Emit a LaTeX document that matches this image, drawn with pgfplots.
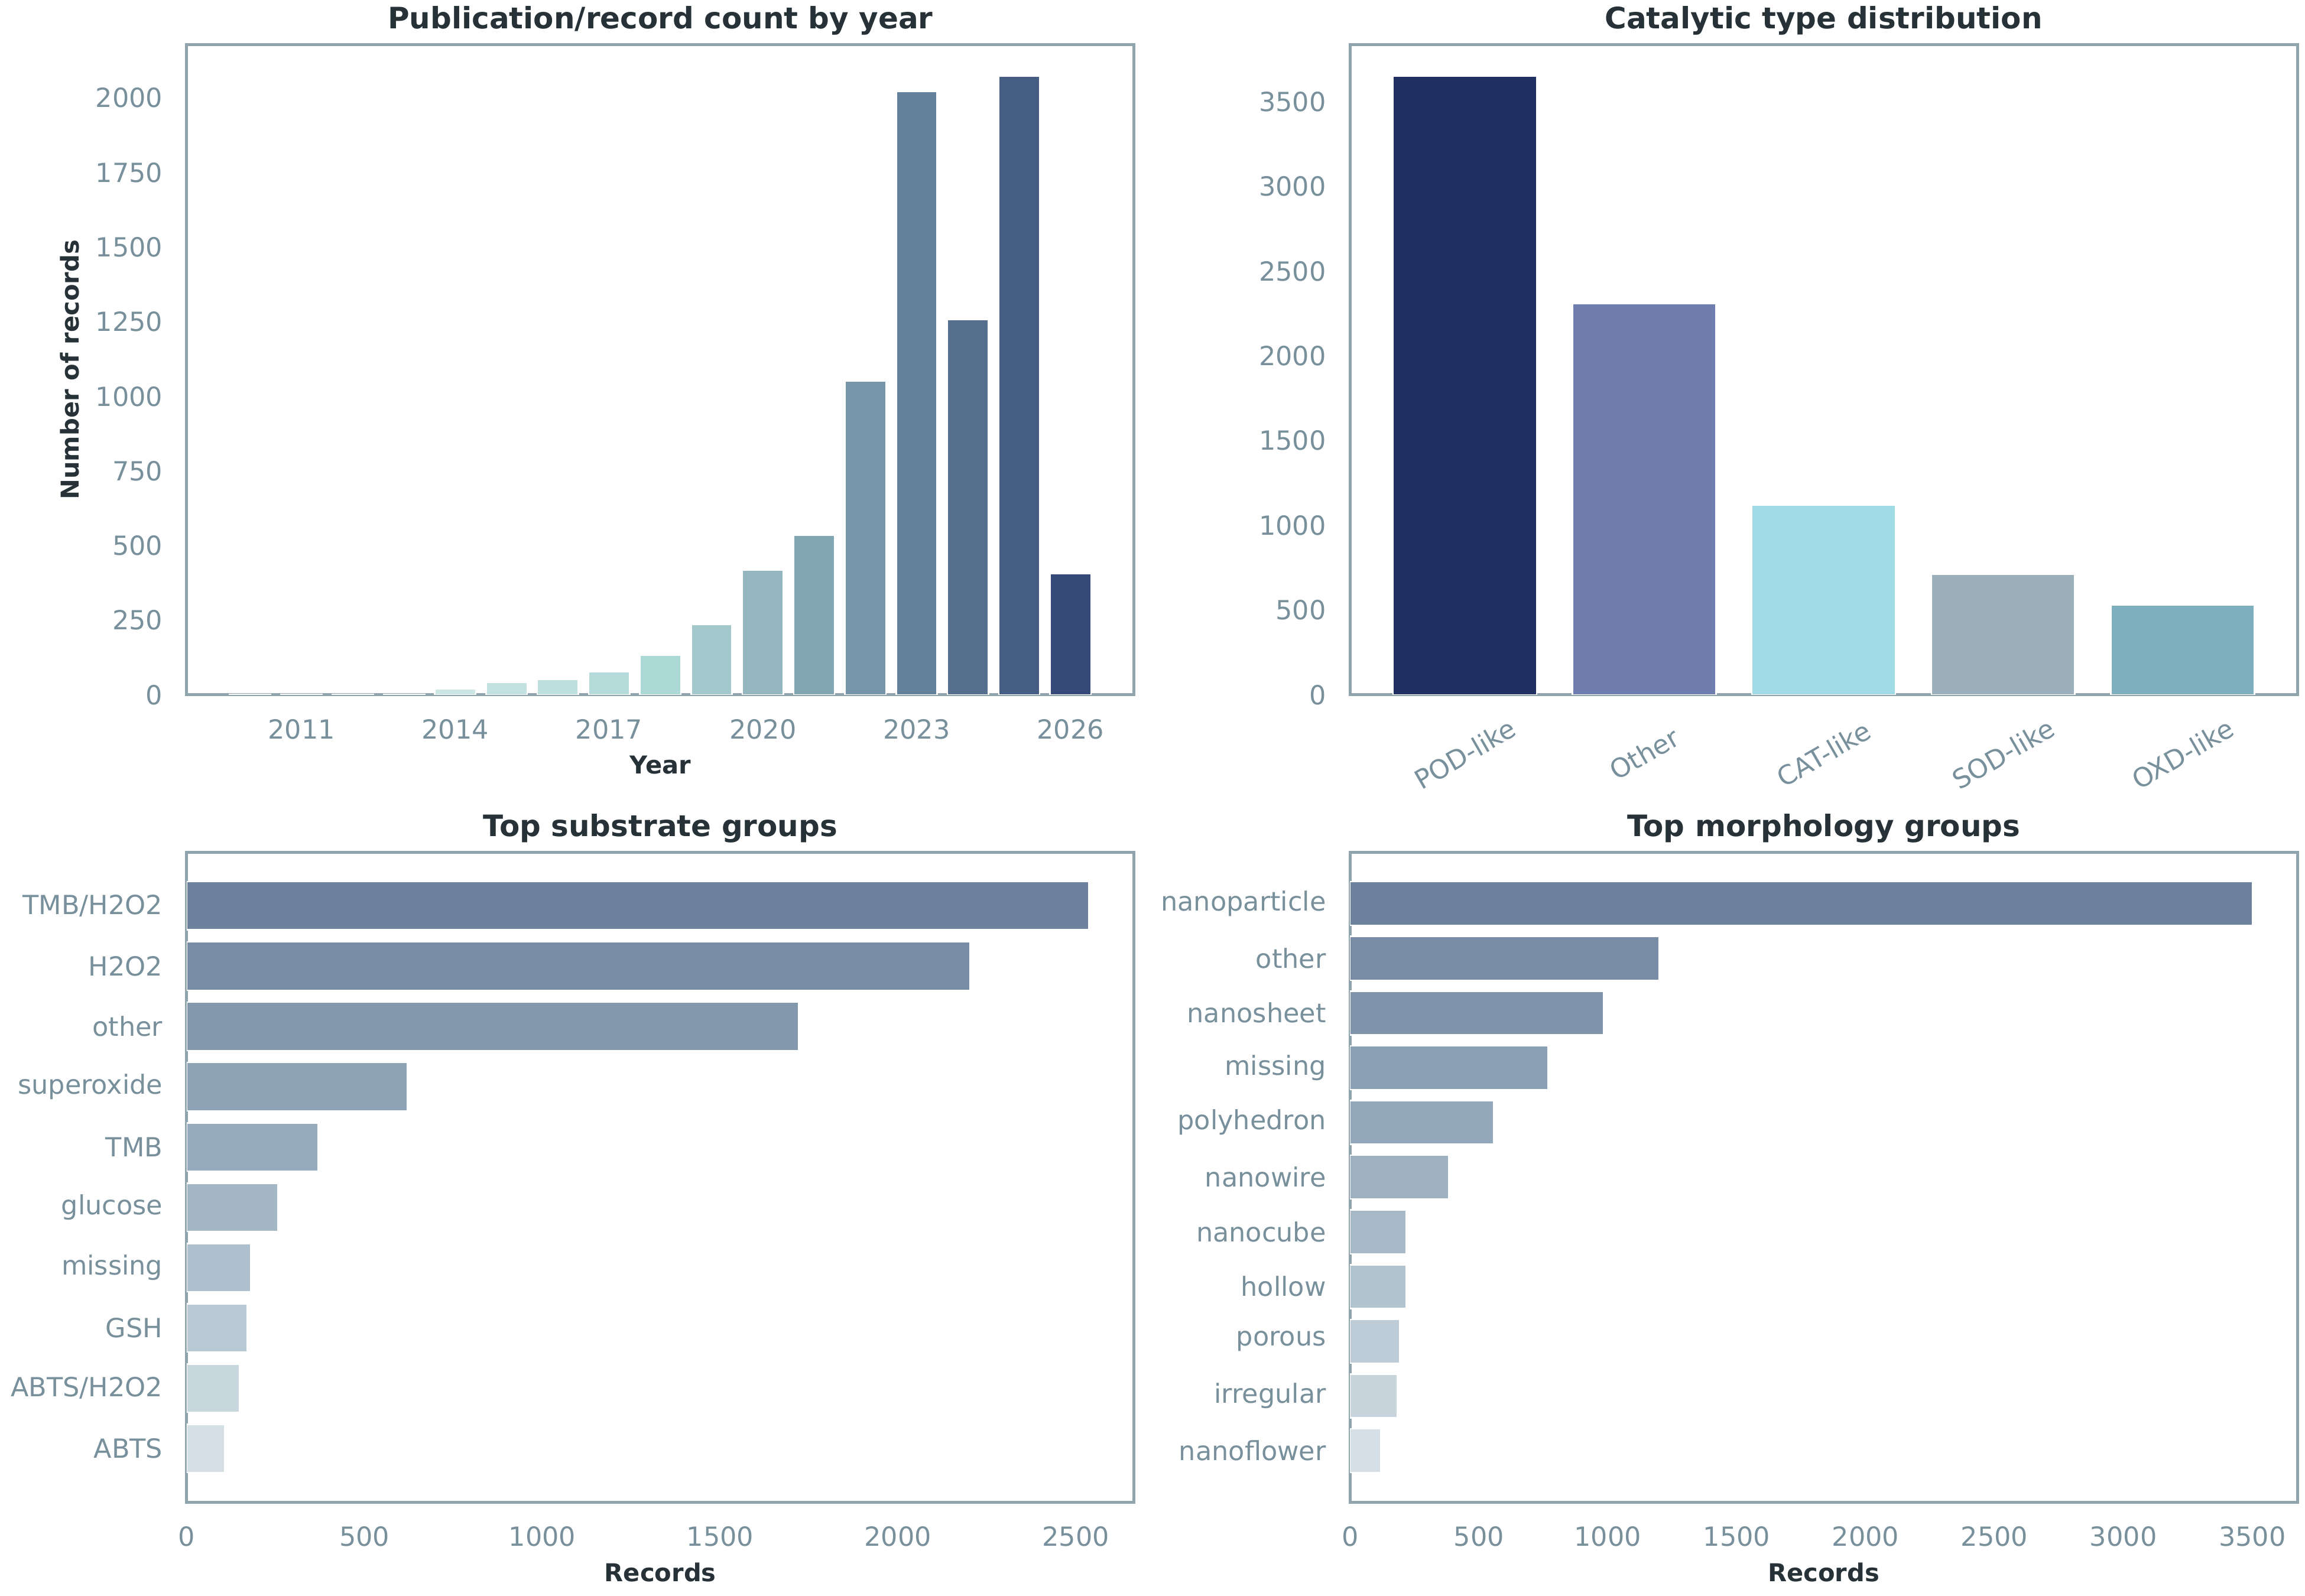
\documentclass[border=0pt]{standalone}
\usepackage{fontspec}
\setmainfont{DejaVu Sans}
\usepackage{pgfplots}
\pgfplotsset{compat=1.18}

% text and frame colours
\definecolor{titlec}{HTML}{263238}
\definecolor{tickc}{HTML}{78909C}
\definecolor{spinec}{HTML}{90A4AE}

% year bars: light teal to navy
\definecolor{y10}{HTML}{DCEEED}
\definecolor{y11}{HTML}{D8ECEB}
\definecolor{y12}{HTML}{D4EAE9}
\definecolor{y13}{HTML}{D0E8E7}
\definecolor{y14}{HTML}{CCE6E4}
\definecolor{y15}{HTML}{C3E1E0}
\definecolor{y16}{HTML}{BDE0DE}
\definecolor{y17}{HTML}{B5DCDA}
\definecolor{y18}{HTML}{ACD9D6}
\definecolor{y19}{HTML}{A2C8CB}
\definecolor{y20}{HTML}{94B7BF}
\definecolor{y21}{HTML}{83A6B3}
\definecolor{y22}{HTML}{7695A9}
\definecolor{y23}{HTML}{64819C}
\definecolor{y24}{HTML}{566F8E}
\definecolor{y25}{HTML}{475E84}
\definecolor{y26}{HTML}{354A78}

% catalytic types
\definecolor{cpod}{HTML}{213063}
\definecolor{coth}{HTML}{6F7EAE}
\definecolor{ccat}{HTML}{A0DBE6}
\definecolor{csod}{HTML}{9BB0BB}
\definecolor{coxd}{HTML}{7EAFBE}

% substrate groups
\definecolor{s0}{HTML}{6D829C}
\definecolor{s1}{HTML}{788DA5}
\definecolor{s2}{HTML}{8498AD}
\definecolor{s3}{HTML}{8EA3B6}
\definecolor{s4}{HTML}{97ABBE}
\definecolor{s5}{HTML}{A3B7C5}
\definecolor{s6}{HTML}{AEC0CD}
\definecolor{s7}{HTML}{BACAD4}
\definecolor{s8}{HTML}{C8D6DD}
\definecolor{s9}{HTML}{D5E0E6}

% morphology groups
\definecolor{m0}{HTML}{6D829C}
\definecolor{m1}{HTML}{788CA5}
\definecolor{m2}{HTML}{8095AC}
\definecolor{m3}{HTML}{8AA0B4}
\definecolor{m4}{HTML}{94A8BB}
\definecolor{m5}{HTML}{9DB1C1}
\definecolor{m6}{HTML}{A7B9C7}
\definecolor{m7}{HTML}{B1C3CF}
\definecolor{m8}{HTML}{BDCCD6}
\definecolor{m9}{HTML}{C8D5DD}
\definecolor{m10}{HTML}{D5E0E6}

\pgfplotsset{
  panel/.style={
    scale only axis, width=384.7pt, height=264pt,
    axis line style={spinec, line width=1.2pt},
    major tick length=0pt,
    tick style={draw=none},
    ticklabel style={font=\fontsize{10.7}{12}\selectfont, text=tickc},
    /pgf/number format/assume math mode=true,
    /pgf/number format/1000 sep={},
    xticklabel shift=6.4pt,
    yticklabel shift=6.2pt,
    every axis title/.style={at={(axis description cs:0.5,1)}, anchor=base, yshift=6.5pt,
      font=\bfseries\fontsize{12}{14}\selectfont, text=titlec},
    every axis x label/.style={at={(axis description cs:0.5,0)}, anchor=center, yshift=-28.6pt,
      font=\bfseries\fontsize{10}{12}\selectfont, text=titlec},
    every axis y label/.style={at={(axis description cs:0,0.5)}, anchor=center, xshift=-47.5pt, rotate=90,
      font=\bfseries\fontsize{10}{12}\selectfont, text=titlec},
    bar width=0.8,
  },
  barst/.style={fill=#1, draw=white, line width=0.6pt, bar shift=0pt},
}

\begin{document}
\begin{tikzpicture}
\path[use as bounding box] (0,0) rectangle (936pt,-648pt);

% ---- records per year ----
\begin{axis}[panel, ybar, bar shift=0pt,
  at={(75.8pt,-282.2pt)}, anchor=south west,
  xmin=2008.76, xmax=2027.24, ymin=0, ymax=2178,
  xtick={2011,2014,2017,2020,2023,2026},
  ytick={0,250,500,750,1000,1250,1500,1750,2000},
  title={Publication/record count by year},
  xlabel={Year}, ylabel={Number of records}]
\addplot[barst=y10] coordinates {(2010,1)};
\addplot[barst=y11] coordinates {(2011,2)};
\addplot[barst=y12] coordinates {(2012,1)};
\addplot[barst=y13] coordinates {(2013,2)};
\addplot[barst=y14] coordinates {(2014,20)};
\addplot[barst=y15] coordinates {(2015,42)};
\addplot[barst=y16] coordinates {(2016,52)};
\addplot[barst=y17] coordinates {(2017,78)};
\addplot[barst=y18] coordinates {(2018,132)};
\addplot[barst=y19] coordinates {(2019,235)};
\addplot[barst=y20] coordinates {(2020,417)};
\addplot[barst=y21] coordinates {(2021,534)};
\addplot[barst=y22] coordinates {(2022,1051)};
\addplot[barst=y23] coordinates {(2023,2022)};
\addplot[barst=y24] coordinates {(2024,1258)};
\addplot[barst=y25] coordinates {(2025,2074)};
\addplot[barst=y26] coordinates {(2026,406)};
\end{axis}

% ---- catalytic type ----
\begin{axis}[panel, ybar, bar shift=0pt,
  at={(548.2pt,-282.2pt)}, anchor=south west,
  xmin=-0.64, xmax=4.64, ymin=0, ymax=3836,
  xtick={0,1,2,3,4},
  xticklabels={POD-like,Other,CAT-like,SOD-like,OXD-like},
  xticklabel shift=0pt,
  xticklabel style={anchor=center, yshift=-24pt, rotate=30},
  ytick={0,500,1000,1500,2000,2500,3000,3500},
  title={Catalytic type distribution}]
\addplot[barst=cpod] coordinates {(0,3653)};
\addplot[barst=coth] coordinates {(1,2310)};
\addplot[barst=ccat] coordinates {(2,1120)};
\addplot[barst=csod] coordinates {(3,712)};
\addplot[barst=coxd] coordinates {(4,530)};
\end{axis}

% ---- substrate groups ----
\begin{axis}[panel, xbar, bar shift=0pt, y dir=reverse,
  at={(75.8pt,-610.1pt)}, anchor=south west,
  xmin=0, xmax=2664, ymin=-0.89, ymax=9.89,
  xtick={0,500,1000,1500,2000,2500},
  ytick={0,1,2,3,4,5,6,7,8,9},
  yticklabels={TMB/H2O2,H2O2,other,superoxide,TMB,glucose,missing,GSH,ABTS/H2O2,ABTS},
  title={Top substrate groups}, xlabel={Records}]
\addplot[barst=s0] coordinates {(2537,0)};
\addplot[barst=s1] coordinates {(2203,1)};
\addplot[barst=s2] coordinates {(1721,2)};
\addplot[barst=s3] coordinates {(620,3)};
\addplot[barst=s4] coordinates {(369,4)};
\addplot[barst=s5] coordinates {(256,5)};
\addplot[barst=s6] coordinates {(181,6)};
\addplot[barst=s7] coordinates {(171,7)};
\addplot[barst=s8] coordinates {(148,8)};
\addplot[barst=s9] coordinates {(107,9)};
\end{axis}

% ---- morphology groups ----
\begin{axis}[panel, xbar, bar shift=0pt, y dir=reverse,
  at={(548.2pt,-610.1pt)}, anchor=south west,
  xmin=0, xmax=3675, ymin=-0.94, ymax=10.94,
  xtick={0,500,1000,1500,2000,2500,3000,3500},
  ytick={0,1,2,3,4,5,6,7,8,9,10},
  yticklabels={nanoparticle,other,nanosheet,missing,polyhedron,nanowire,nanocube,hollow,porous,irregular,nanoflower},
  title={Top morphology groups}, xlabel={Records}]
\addplot[barst=m0] coordinates {(3500,0)};
\addplot[barst=m1] coordinates {(1199,1)};
\addplot[barst=m2] coordinates {(984,2)};
\addplot[barst=m3] coordinates {(769,3)};
\addplot[barst=m4] coordinates {(557,4)};
\addplot[barst=m5] coordinates {(384,5)};
\addplot[barst=m6] coordinates {(218,6)};
\addplot[barst=m7] coordinates {(218,7)};
\addplot[barst=m8] coordinates {(192,8)};
\addplot[barst=m9] coordinates {(184,9)};
\addplot[barst=m10] coordinates {(120,10)};
\end{axis}
\end{tikzpicture}
\end{document}
